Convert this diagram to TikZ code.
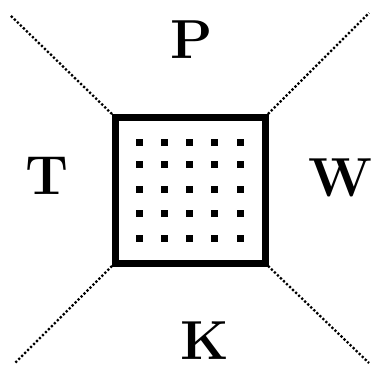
\documentclass[tikz,border=0pt]{standalone}
\usetikzlibrary{calc}

\begin{document}
\begin{tikzpicture}[x=1pt, y=-1pt,
        frame/.style={draw=black, line width=7pt, minimum width=150pt, minimum height=146pt,
                      inner sep=0pt, outer sep=0pt},
        pin/.style={fill=black, minimum size=7pt, inner sep=0pt},
        letter/.style={font=\fontsize{55}{60}\selectfont\bfseries, inner sep=0pt},
        ray/.style={draw=black, line width=2.3pt, dash pattern=on 2.2pt off 2pt}
      ]
        \useasboundingbox (0,0) rectangle (371,370);

        \node[frame] (sq) at (190,190) {};
        \foreach \i [count=\c] in {139,164,189,214,240}
          \foreach \j [count=\r] in {142,164,189,213,238}
            \node[pin] (p\c\r) at (\i,\j) {};

        \node[letter] (P) at (192,40)  {P};
        \node[letter] (T) at (47,176)  {T};
        \node[letter] (W) at (340,178) {W};
        \node[letter] (K) at (205,341) {K};

        \coordinate (tl) at (10,15);
        \coordinate (tr) at (369,13);
        \coordinate (bl) at (15,363);
        \coordinate (br) at (369,363);

        \draw[ray] (sq.north west) -- (tl);
        \draw[ray] (sq.north east) -- (tr);
        \draw[ray] (sq.south west) -- (bl);
        \draw[ray] (sq.south east) -- (br);
      \end{tikzpicture}
\end{document}
